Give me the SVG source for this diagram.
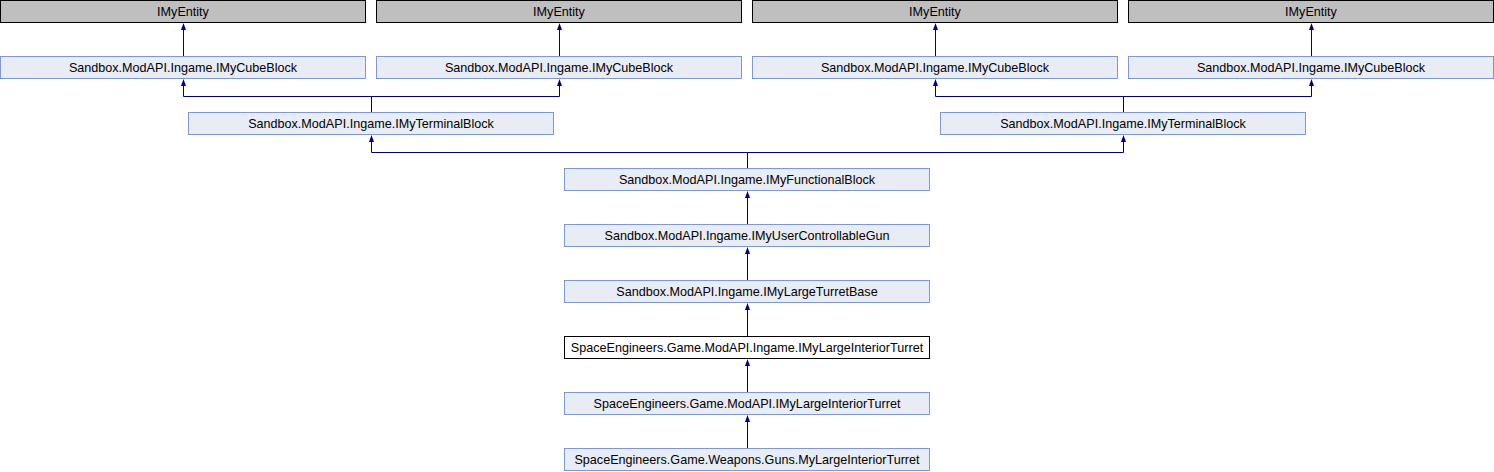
<svg xmlns="http://www.w3.org/2000/svg" width="1494" height="472" viewBox="0 0 1494 472">
<defs>
<style>
.n rect{fill:#E8ECF5;stroke:#7F98CF;stroke-width:1}
.ext rect{fill:#BFBFBF;stroke:#000;stroke-width:1}
.cur rect{fill:#FFFFFF;stroke:#000;stroke-width:1}
text{font-family:"Liberation Sans",Arial,sans-serif;font-size:12.6px;fill:#000;text-anchor:middle}
#edges path{fill:none;stroke:#000080;stroke-width:1}
#edges polygon{fill:#000080;stroke:none}
</style>
</defs>
<rect x="0" y="0" width="1494" height="472" fill="#fff"/>
<g id="e1" class="ext"><rect x="0.5" y="0.5" width="365" height="22"/><text x="183" y="16">IMyEntity</text></g>
<g id="e2" class="ext"><rect x="376.5" y="0.5" width="365" height="22"/><text x="559" y="16">IMyEntity</text></g>
<g id="e3" class="ext"><rect x="752.5" y="0.5" width="365" height="22"/><text x="935" y="16">IMyEntity</text></g>
<g id="e4" class="ext"><rect x="1128.5" y="0.5" width="365" height="22"/><text x="1311" y="16">IMyEntity</text></g>
<g id="c1" class="n"><rect x="0.5" y="56.5" width="365" height="22"/><text x="183" y="72">Sandbox.ModAPI.Ingame.IMyCubeBlock</text></g>
<g id="c2" class="n"><rect x="376.5" y="56.5" width="365" height="22"/><text x="559" y="72">Sandbox.ModAPI.Ingame.IMyCubeBlock</text></g>
<g id="c3" class="n"><rect x="752.5" y="56.5" width="365" height="22"/><text x="935" y="72">Sandbox.ModAPI.Ingame.IMyCubeBlock</text></g>
<g id="c4" class="n"><rect x="1128.5" y="56.5" width="365" height="22"/><text x="1311" y="72">Sandbox.ModAPI.Ingame.IMyCubeBlock</text></g>
<g id="t1" class="n"><rect x="188.5" y="112.5" width="365" height="22"/><text x="371" y="128">Sandbox.ModAPI.Ingame.IMyTerminalBlock</text></g>
<g id="t2" class="n"><rect x="940.5" y="112.5" width="365" height="22"/><text x="1123" y="128">Sandbox.ModAPI.Ingame.IMyTerminalBlock</text></g>
<g id="f" class="n"><rect x="564.5" y="168.5" width="365" height="22"/><text x="747" y="184">Sandbox.ModAPI.Ingame.IMyFunctionalBlock</text></g>
<g id="u" class="n"><rect x="564.5" y="224.5" width="365" height="22"/><text x="747" y="240">Sandbox.ModAPI.Ingame.IMyUserControllableGun</text></g>
<g id="l" class="n"><rect x="564.5" y="280.5" width="365" height="22"/><text x="747" y="296">Sandbox.ModAPI.Ingame.IMyLargeTurretBase</text></g>
<g id="cur" class="cur"><rect x="564.5" y="336.5" width="365" height="22"/><text x="747" y="352">SpaceEngineers.Game.ModAPI.Ingame.IMyLargeInteriorTurret</text></g>
<g id="m" class="n"><rect x="564.5" y="392.5" width="365" height="22"/><text x="747" y="408">SpaceEngineers.Game.ModAPI.IMyLargeInteriorTurret</text></g>
<g id="w" class="n"><rect x="564.5" y="448.5" width="365" height="22"/><text x="747" y="464">SpaceEngineers.Game.Weapons.Guns.MyLargeInteriorTurret</text></g>
<g id="edges">
<path d="M183.5 56V29M559.5 56V29M935.5 56V29M1311.5 56V29"/>
<path d="M183.5 85V96.5H559.5V85M371.5 96.5V112"/>
<path d="M935.5 85V96.5H1311.5V85M1123.5 96.5V112"/>
<path d="M371.5 141V152.5H1123.5V141M747.5 152.5V168"/>
<path d="M747.5 224V197M747.5 280V253M747.5 336V309M747.5 392V365M747.5 448V421"/>
<polygon points="183.5,23 181,30 186,30"/>
<polygon points="559.5,23 557,30 562,30"/>
<polygon points="935.5,23 933,30 938,30"/>
<polygon points="1311.5,23 1309,30 1314,30"/>
<polygon points="183.5,79 181,86 186,86"/>
<polygon points="559.5,79 557,86 562,86"/>
<polygon points="935.5,79 933,86 938,86"/>
<polygon points="1311.5,79 1309,86 1314,86"/>
<polygon points="371.5,135 369,142 374,142"/>
<polygon points="1123.5,135 1121,142 1126,142"/>
<polygon points="747.5,191 745,198 750,198"/>
<polygon points="747.5,247 745,254 750,254"/>
<polygon points="747.5,303 745,310 750,310"/>
<polygon points="747.5,359 745,366 750,366"/>
<polygon points="747.5,415 745,422 750,422"/>
</g>
</svg>
